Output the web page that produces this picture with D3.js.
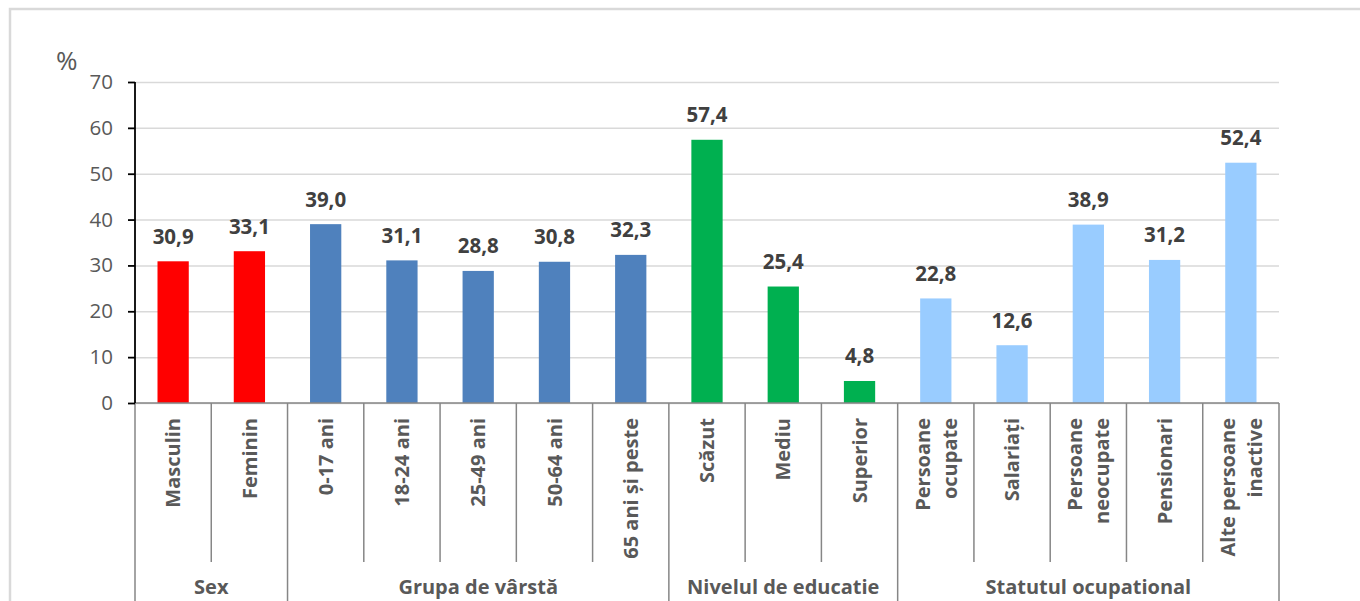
<!DOCTYPE html>
<html>
<head>
<meta charset="utf-8">
<script src="https://cdn.jsdelivr.net/npm/d3@7"></script>
<style>
  html, body { margin: 0; padding: 0; background: #fff; }
  svg { display: block; }
  text { font-family: "Open Sans", "Noto Sans", sans-serif; }
</style>
</head>
<body>
<svg id="chart" width="1360" height="601"></svg>
<script>
const groups = ["Sex", "Grupa de vârstă", "Nivelul de educatie", "Statutul ocupational"];
const categories = [
  ["Masculin"], ["Feminin"],
  ["0-17 ani"], ["18-24 ani"], ["25-49 ani"], ["50-64 ani"], ["65 ani și peste"],
  ["Scăzut"], ["Mediu"], ["Superior"],
  ["Persoane", "ocupate"], ["Salariați"], ["Persoane", "neocupate"], ["Pensionari"], ["Alte persoane", "inactive"]
];
const values = [30.9, 33.1, 39.0, 31.1, 28.8, 30.8, 32.3, 57.4, 25.4, 4.8, 22.8, 12.6, 38.9, 31.2, 52.4];
const groupIndex = [0, 0, 1, 1, 1, 1, 1, 2, 2, 2, 3, 3, 3, 3, 3];
const groupColors = ["#ff0000", "#4f81bd", "#00b050", "#99ccff"];
const yTicks = [0, 10, 20, 30, 40, 50, 60, 70];

(function () {
const svg = d3.select("#chart");
const pL = 135, pR = 1279, pT = 82, pB = 403;

// outer frame
svg.append("rect").attr("x", 10).attr("y", 9).attr("width", 1400).attr("height", 700)
  .attr("fill", "none").attr("stroke", "#d9d9d9").attr("stroke-width", 2.5);

const x = d3.scaleBand().domain(d3.range(categories.length)).range([pL, pR]).padding(0);
const y = d3.scaleLinear().domain([0, 70]).range([pB, pT]);

// gridlines
svg.append("g").attr("transform", `translate(${pL},0)`)
  .call(d3.axisLeft(y).tickValues(yTicks).tickSize(-(pR - pL)).tickFormat(""))
  .call(g => g.select(".domain").remove())
  .call(g => g.selectAll("line").attr("stroke", "#d9d9d9").attr("stroke-width", 1.5));

// bars
const barW = x.bandwidth() * 0.41;
svg.append("g").selectAll("rect").data(values).join("rect")
  .attr("x", (d, i) => x(i) + (x.bandwidth() - barW) / 2)
  .attr("y", d => y(d))
  .attr("width", barW)
  .attr("height", d => y(0) - y(d))
  .attr("fill", (d, i) => groupColors[groupIndex[i]]);

// data labels
const fmt = d => d3.format(".1f")(d).replace(".", ",");
svg.append("g").selectAll("text").data(values).join("text")
  .attr("x", (d, i) => x(i) + x.bandwidth() / 2)
  .attr("y", d => y(d) - 17.5)
  .attr("text-anchor", "middle")
  .attr("font-size", 20.5).attr("font-weight", "bold").attr("fill", "#404040")
  .text(fmt);

// category axis line
svg.append("line").attr("x1", pL).attr("x2", pR).attr("y1", pB).attr("y2", pB)
  .attr("stroke", "#868686").attr("stroke-width", 1.5);

// category separators
const groupStarts = new Set([0]);
groupIndex.forEach((g, i) => { if (i > 0 && g !== groupIndex[i - 1]) groupStarts.add(i); });
const bounds = d3.range(categories.length + 1);
svg.append("g").selectAll("line").data(bounds).join("line")
  .attr("x1", i => i < categories.length ? x(i) : pR)
  .attr("x2", i => i < categories.length ? x(i) : pR)
  .attr("y1", pB)
  .attr("y2", i => (groupStarts.has(i) || i === categories.length) ? 610 : 562)
  .attr("stroke", "#868686").attr("stroke-width", 1.5);

// category labels (rotated)
const lineH = 27;
const catG = svg.append("g");
categories.forEach((lines, i) => {
  const cx = x(i) + x.bandwidth() / 2;
  const n = lines.length;
  lines.forEach((t, k) => {
    const off = (k - (n - 1) / 2) * lineH;
    catG.append("text")
      .attr("transform", `translate(${cx + off},418) rotate(-90)`)
      .attr("text-anchor", "end")
      .attr("dy", "0.36em")
      .attr("font-size", 20).attr("font-weight", "bold").attr("fill", "#595959")
      .text(t);
  });
});

// group labels
groups.forEach((gname, gi) => {
  const idx = groupIndex.map((g, i) => g === gi ? i : -1).filter(i => i >= 0);
  const x0 = x(idx[0]), x1 = x(idx[idx.length - 1]) + x.bandwidth();
  svg.append("text")
    .attr("x", (x0 + x1) / 2).attr("y", 594)
    .attr("text-anchor", "middle")
    .attr("font-size", 20).attr("font-weight", "bold").attr("fill", "#595959")
    .text(gname);
});

// y axis
svg.append("g").attr("transform", `translate(${pL},0)`)
  .call(d3.axisLeft(y).tickValues(yTicks).tickSize(7).tickPadding(15).tickFormat(d3.format("d")))
  .call(g => g.select(".domain").attr("stroke", "#000").attr("stroke-width", 1.8).attr("d", `M0,${pT}V${pB}`))
  .call(g => g.selectAll(".tick line").attr("stroke", "#000").attr("stroke-width", 1.8))
  .call(g => g.selectAll(".tick text").attr("font-size", 20.5).attr("fill", "#595959")
    .attr("font-family", "'Open Sans', 'Noto Sans', sans-serif"));

// unit label
svg.append("text").attr("x", 56).attr("y", 70)
  .attr("font-size", 26).attr("fill", "#595959").text("%");
})();
</script>
</body>
</html>
